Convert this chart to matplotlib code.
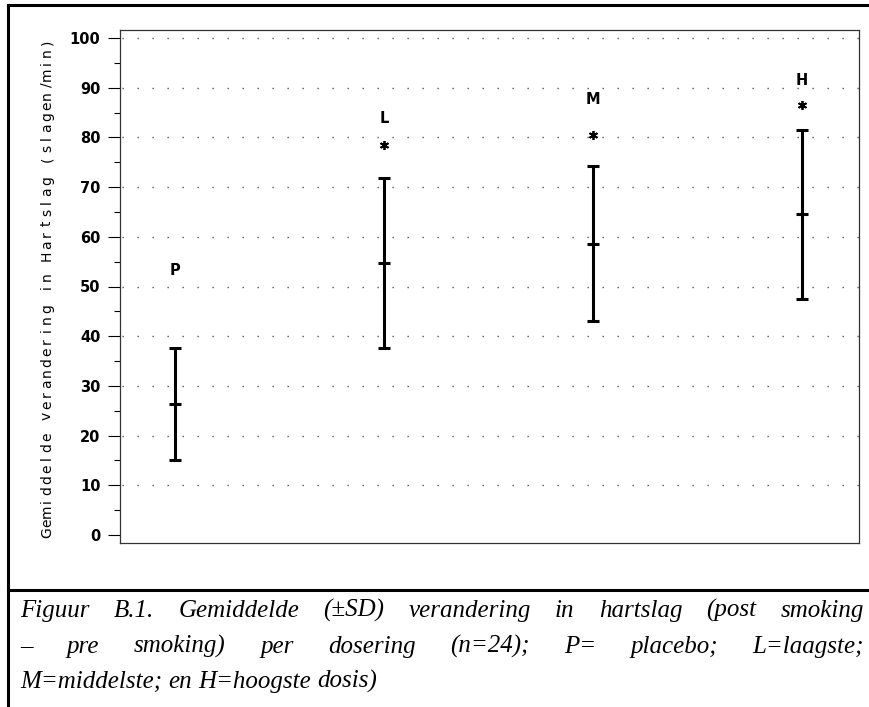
import numpy as np
import matplotlib
matplotlib.use("Agg")
import matplotlib.pyplot as plt
from matplotlib.lines import Line2D

# dosage groups and heart-rate change (post - pre smoking), mean and SD
groups = ["P", "L", "M", "H"]
means = [26.3, 54.8, 58.6, 64.5]
sds = [11.3, 17.1, 15.6, 17.0]
label_y = [53.3, 83.9, 87.7, 91.4]
# significance asterisks (no asterisk for placebo)
star_groups = ["L", "M", "H"]
star_y = [78.5, 80.5, 86.5]

yticks = [0, 10, 20, 30, 40, 50, 60, 70, 80, 90, 100]
ylabel = "Gemiddelde verandering in Hartslag (slagen/min)"
caption = [
    "Figuur B.1. Gemiddelde (±SD) verandering in hartslag (post smoking",
    "– pre smoking) per dosering (n=24); P= placebo; L=laagste;",
    "M=middelste; en H=hoogste dosis)",
]

W, H = 869, 707


def fx(px):
    return px / W


def fy(py):
    return 1 - py / H


def justified_line(fig, text, x0, x1, y, justify=True, **kw):
    words = text.split(" ")
    items = [fig.text(0, fy(y), w, va="baseline", ha="left", **kw) for w in words]
    r = fig.canvas.get_renderer()
    widths = [t.get_window_extent(r).width for t in items]
    if justify and len(words) > 1:
        gap = (x1 - x0 - sum(widths)) / (len(words) - 1)
    else:
        gap = items[0].get_fontsize() * 100 / 72 * 0.25
    x = x0
    for t, w in zip(items, widths):
        t.set_x(fx(x))
        x += w + gap


def main():
    fig = plt.figure(figsize=(W / 100, H / 100), dpi=100)
    ax = fig.add_axes([fx(120), fy(543), fx(859) - fx(120), fy(30) - fy(543)])

    xs = np.arange(1, len(groups) + 1)

    # dotted reference lines
    ax.hlines(yticks[1:], 0.737, 4.273, colors="#555555", linewidth=1.0,
              linestyles=(9.4, (1, 9.8)), zorder=1)

    ax.errorbar(xs, means, yerr=sds, fmt="none", ecolor="black",
                elinewidth=2.2, capsize=4.3, capthick=2.2, zorder=3)
    ax.plot(xs, means, linestyle="none", marker="_", markersize=8.6,
            markeredgewidth=2.2, color="black", zorder=4)

    sx = [xs[groups.index(g)] for g in star_groups]
    ax.plot(sx, star_y, linestyle="none", marker=(6, 2, 0), markersize=6.5,
            markeredgewidth=1.3, color="black", zorder=4)

    for x, g, y in zip(xs, groups, label_y):
        ax.text(x, y, g, ha="center", va="center", fontsize=10.5,
                fontweight="bold", family="DejaVu Sans")

    ax.set_xlim(0.737, 4.273)
    ax.set_ylim(-1.61, 101.61)
    ax.set_xticks([])
    ax.set_yticks(yticks)
    ax.set_yticks(np.arange(5, 100, 10), minor=True)
    ax.tick_params(axis="y", which="major", direction="out", length=8.6,
                   width=0.8, pad=5.5, labelsize=10.5)
    ax.tick_params(axis="y", which="minor", direction="out", length=4.3,
                   width=0.8)
    for lab in ax.get_yticklabels():
        lab.set_fontweight("bold")
    for s in ax.spines.values():
        s.set_linewidth(0.9)
        s.set_color("#333333")

    # y axis title, letter-spaced
    y0, y1 = 533, 42
    step = (y0 - y1) / (len(ylabel) - 1)
    for i, ch in enumerate(ylabel):
        fig.text(fx(47), fy(y0 - i * step), ch, rotation=90, ha="center",
                 va="center", fontsize=10, family="DejaVu Sans",
                 color="black")

    # frame around figure and caption
    lw = 2.2
    fig.add_artist(Line2D([fx(8), fx(8)], [fy(5), fy(707)], color="black",
                          linewidth=lw, transform=fig.transFigure))
    fig.add_artist(Line2D([fx(8), fx(869)], [fy(5), fy(5)], color="black",
                          linewidth=lw, transform=fig.transFigure))
    fig.add_artist(Line2D([fx(8), fx(869)], [fy(590), fy(590)], color="black",
                          linewidth=lw, transform=fig.transFigure))

    cap_kw = dict(family="Liberation Serif", style="italic", fontsize=18)
    justified_line(fig, caption[0], 20, 864, 617, **cap_kw)
    justified_line(fig, caption[1], 20, 864, 653, **cap_kw)
    justified_line(fig, caption[2], 20, 864, 688, justify=False, **cap_kw)

    fig.savefig("out.png", dpi=100)


if __name__ == '__main__':
    main()
